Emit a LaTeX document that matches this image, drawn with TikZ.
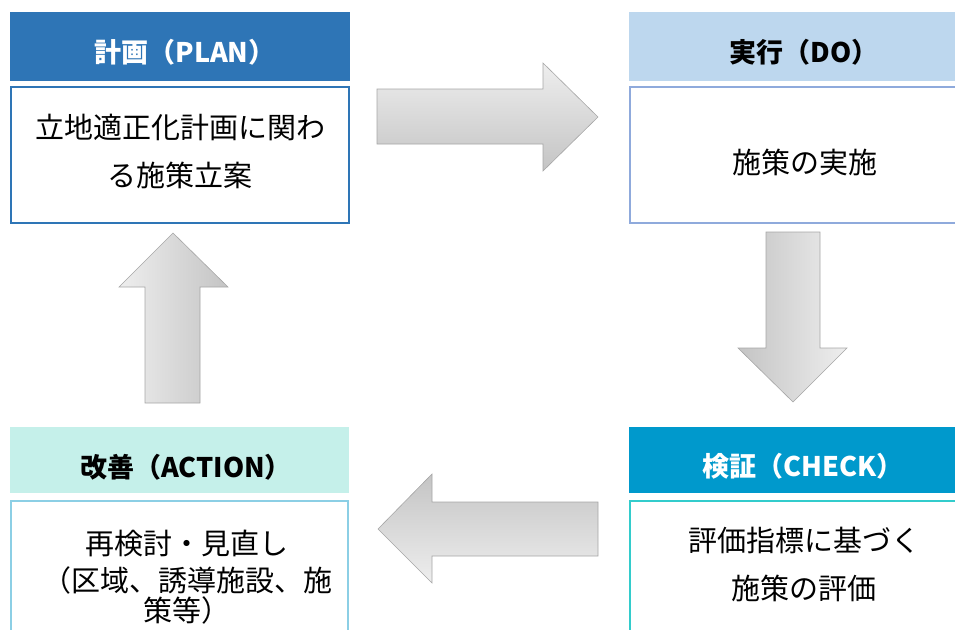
\documentclass[tikz,border=0pt]{standalone}
\usepackage{fontspec}
\newfontfamily\jp{Noto Sans CJK JP}
\usetikzlibrary{positioning}
\definecolor{pblue}{HTML}{2E75B6}
\definecolor{dofill}{HTML}{BDD7EE}
\definecolor{doline}{HTML}{8FAADC}
\definecolor{chkfill}{HTML}{0099CC}
\definecolor{chkline}{HTML}{33CCCC}
\definecolor{actfill}{HTML}{C5F0EA}
\definecolor{actline}{HTML}{8CCFE5}
\definecolor{agray}{HTML}{A6A6A6}
\definecolor{alight}{HTML}{EEEEEE}
\definecolor{adark}{HTML}{C4C4C4}

\begin{document}
\begin{tikzpicture}[x=1pt, y=-1pt,
   hd/.style={inner sep=0pt, outer sep=0pt},
   bx/.style={draw, line width=1.5pt, fill=white, inner sep=0pt, outer sep=0pt},
   ht/.style={anchor=base, inner sep=0pt, font=\jp\bfseries\fontsize{27}{32}\selectfont},
   bt/.style={anchor=base, inner sep=0pt, align=center, font=\jp\fontsize{29}{48}\selectfont},
   blk/.style={draw=agray, line width=0.6pt, line join=miter}]
  \useasboundingbox (0,0) rectangle (955,629);
  \clip (0,0) rectangle (955,629);
  % plan
  \node[hd, fill=pblue, minimum width=340, minimum height=69] (hplan) at (180,46.5) {};
  \node[ht, white] (tplan) at (185,62.5) {計画（PLAN）};
  \node[bx, draw=pblue, minimum width=338, minimum height=136] (bplan) at (180,155) {};
  \node[bt] (xplan) at (180,186) {立地適正化計画に関わ\\る施策立案};
  % do
  \node[hd, fill=dofill, minimum width=352, minimum height=69] (hdo) at (805,46.5) {};
  \node[ht] (tdo) at (804,62.5) {実行（DO）};
  \node[bx, draw=doline, minimum width=350, minimum height=136] (bdo) at (805,155) {};
  \node[bt] (xdo) at (805,173) {施策の実施};
  % check
  \node[hd, fill=chkfill, minimum width=352, minimum height=66] (hchk) at (805,460) {};
  \node[ht, white] (tchk) at (803,476.5) {検証（CHECK）};
  \node[bx, draw=chkline, minimum width=350, minimum height=159] (bchk) at (805,580.5) {};
  \node[bt] (xchk) at (804,599) {評価指標に基づく\\施策の評価};
  % action
  \node[hd, fill=actfill, minimum width=339, minimum height=66] (hact) at (179.5,460) {};
  \node[ht] (tact) at (186,477.5) {改善（ACTION）};
  \node[bx, draw=actline, minimum width=337, minimum height=159] (bact) at (179.5,580.5) {};
  \node[bt, font=\jp\fontsize{29}{37}\selectfont] (xact) at (187,621)
     {再検討・見直し\\（区域、誘導施設、施\\[-7pt]策等）};
  % block arrows
  \draw[blk, top color=alight, bottom color=adark]
     (377,89) -- (543,89) -- (543,63) -- (598,117) -- (543,171) -- (543,144) -- (377,144) -- cycle;
  \draw[blk, left color=adark, right color=alight]
     (766,232) -- (820,232) -- (820,348) -- (847,348) -- (793,402) -- (738,348) -- (766,348) -- cycle;
  \draw[blk, top color=adark, bottom color=alight]
     (598,502) -- (598,556) -- (432,556) -- (432,583) -- (378,529) -- (432,474) -- (432,502) -- cycle;
  \draw[blk, left color=alight, right color=adark]
     (145,403) -- (200,403) -- (200,287) -- (228,287) -- (173,233) -- (119,287) -- (145,287) -- cycle;
\end{tikzpicture}
\end{document}
